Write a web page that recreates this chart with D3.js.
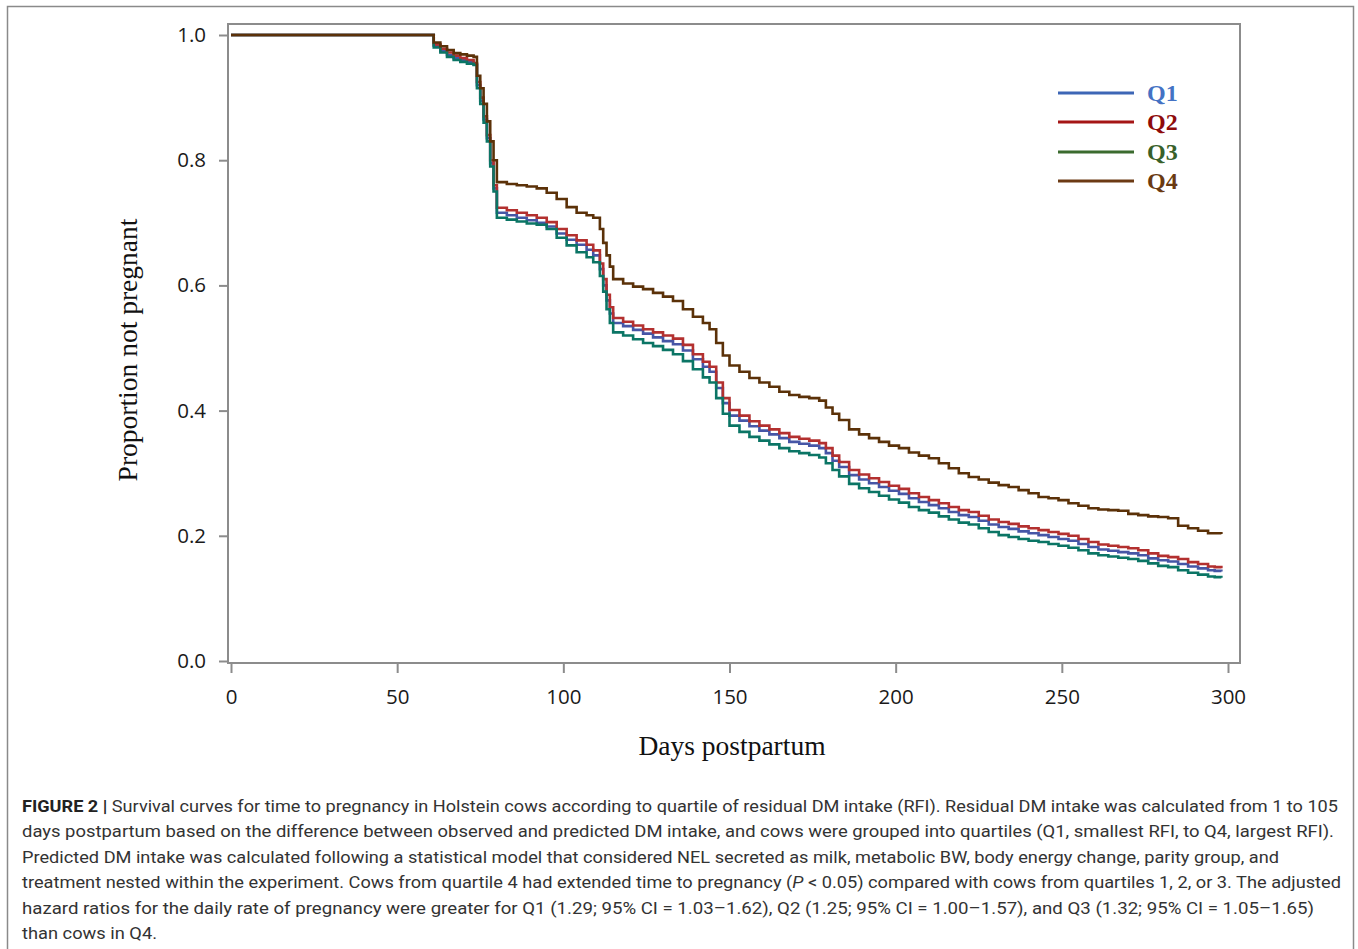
<!DOCTYPE html>
<html>
<head>
<meta charset="utf-8">
<script src="https://cdn.jsdelivr.net/npm/d3@7"></script>
<style>
  body { margin: 0; background: #fff; }
</style>
</head>
<body>
<div id="chart"></div>
<script>
// days at which the Kaplan-Meier estimates were read
var days = [0, 59, 61, 63, 65, 67, 69, 71, 73, 74,
	75, 76, 77, 78, 79, 80, 83, 86, 89, 92,
	95, 98, 101, 104, 107, 109, 111, 112, 113, 114,
	115, 118, 121, 124, 127, 130, 133, 136, 139, 142,
	144, 146, 148, 150, 153, 156, 159, 162, 165, 168,
	171, 174, 177, 179, 181, 183, 186, 189, 192, 195,
	198, 201, 204, 207, 210, 213, 216, 219, 222, 225,
	228, 231, 234, 237, 240, 243, 246, 249, 252, 255,
	258, 261, 264, 267, 270, 273, 276, 279, 282, 285,
	288, 291, 294, 296, 298];

var q1 = [1, 1, 0.983, 0.975, 0.968, 0.963, 0.96, 0.957, 0.953, 0.92,
	0.895, 0.865, 0.835, 0.795, 0.755, 0.716, 0.712, 0.708, 0.704, 0.7,
	0.694, 0.683, 0.673, 0.665, 0.657, 0.648, 0.626, 0.6, 0.576, 0.555,
	0.54, 0.535, 0.529, 0.523, 0.517, 0.511, 0.506, 0.496, 0.482, 0.47,
	0.462, 0.436, 0.412, 0.392, 0.384, 0.375, 0.368, 0.362, 0.356, 0.35,
	0.347, 0.344, 0.34, 0.332, 0.32, 0.31, 0.297, 0.29, 0.284, 0.278,
	0.272, 0.267, 0.26, 0.254, 0.249, 0.244, 0.238, 0.233, 0.23, 0.224,
	0.218, 0.214, 0.211, 0.207, 0.204, 0.201, 0.198, 0.195, 0.192, 0.187,
	0.182, 0.178, 0.176, 0.174, 0.172, 0.169, 0.164, 0.161, 0.159, 0.155,
	0.151, 0.148, 0.145, 0.144, 0.143];

var q2 = [1, 1, 0.985, 0.978, 0.972, 0.967, 0.963, 0.96, 0.955, 0.925,
	0.9, 0.87, 0.84, 0.8, 0.76, 0.724, 0.72, 0.716, 0.712, 0.708,
	0.701, 0.69, 0.68, 0.672, 0.665, 0.656, 0.635, 0.61, 0.585, 0.565,
	0.548, 0.542, 0.536, 0.53, 0.525, 0.52, 0.515, 0.505, 0.49, 0.478,
	0.47, 0.445, 0.42, 0.401, 0.392, 0.383, 0.376, 0.37, 0.364, 0.358,
	0.355, 0.352, 0.348, 0.34, 0.328, 0.318, 0.305, 0.298, 0.292, 0.286,
	0.28, 0.275, 0.268, 0.262, 0.257, 0.252, 0.246, 0.241, 0.238, 0.232,
	0.226, 0.222, 0.219, 0.215, 0.212, 0.209, 0.206, 0.203, 0.2, 0.195,
	0.19, 0.186, 0.184, 0.182, 0.18, 0.177, 0.172, 0.168, 0.166, 0.163,
	0.158, 0.155, 0.151, 0.15, 0.148];

var q3 = [1, 1, 0.98, 0.972, 0.965, 0.96, 0.957, 0.954, 0.952, 0.915,
	0.89, 0.86, 0.83, 0.79, 0.75, 0.708, 0.705, 0.702, 0.699, 0.697,
	0.69, 0.676, 0.664, 0.653, 0.645, 0.637, 0.615, 0.59, 0.562, 0.54,
	0.525, 0.52, 0.514, 0.508, 0.503, 0.497, 0.49, 0.479, 0.466, 0.453,
	0.445, 0.42, 0.395, 0.376, 0.366, 0.358, 0.352, 0.346, 0.34, 0.335,
	0.332, 0.329, 0.325, 0.316, 0.305, 0.295, 0.283, 0.276, 0.27, 0.264,
	0.258, 0.253, 0.246, 0.241, 0.237, 0.231, 0.226, 0.221, 0.218, 0.212,
	0.206, 0.201, 0.198, 0.195, 0.192, 0.19, 0.187, 0.184, 0.181, 0.177,
	0.172, 0.169, 0.167, 0.165, 0.163, 0.16, 0.156, 0.152, 0.15, 0.145,
	0.141, 0.138, 0.135, 0.134, 0.133];

var q4 = [1, 1, 0.988, 0.982, 0.976, 0.971, 0.969, 0.967, 0.965, 0.935,
	0.915, 0.89, 0.862, 0.83, 0.8, 0.765, 0.762, 0.76, 0.758, 0.755,
	0.748, 0.738, 0.725, 0.716, 0.712, 0.708, 0.69, 0.668, 0.648, 0.63,
	0.61, 0.603, 0.598, 0.594, 0.588, 0.582, 0.575, 0.562, 0.55, 0.54,
	0.53, 0.508, 0.488, 0.472, 0.462, 0.452, 0.445, 0.438, 0.43, 0.425,
	0.422, 0.42, 0.416, 0.405, 0.395, 0.385, 0.37, 0.362, 0.356, 0.35,
	0.344, 0.34, 0.333, 0.328, 0.324, 0.316, 0.308, 0.3, 0.294, 0.29,
	0.285, 0.281, 0.278, 0.273, 0.268, 0.262, 0.26, 0.257, 0.252, 0.248,
	0.244, 0.242, 0.241, 0.24, 0.235, 0.233, 0.231, 0.23, 0.228, 0.216,
	0.212, 0.208, 0.204, 0.204, 0.203];

var seriesNames = ["Q1", "Q2", "Q3", "Q4"];
var seriesValues = [q1, q2, q3, q4];
var curveColors = ["#4656a6", "#b3302f", "#0b7565", "#5b3108"];
var legendLineColors = ["#3d66b6", "#a51616", "#3b6b2e", "#6c3a14"];
var legendTextColors = ["#4472c4", "#8e0b0b", "#38602a", "#6a3a12"];

var xTicks = [0, 50, 100, 150, 200, 250, 300];
var yTicks = [0, 0.2, 0.4, 0.6, 0.8, 1.0];

var captionLines = [
	["FIGURE 2 | ", "Survival curves for time to pregnancy in Holstein cows according to quartile of residual DM intake (RFI). Residual DM intake was calculated from 1 to 105"],
	["", "days postpartum based on the difference between observed and predicted DM intake, and cows were grouped into quartiles (Q1, smallest RFI, to Q4, largest RFI)."],
	["", "Predicted DM intake was calculated following a statistical model that considered NEL secreted as milk, metabolic BW, body energy change, parity group, and"],
	["", "treatment nested within the experiment. Cows from quartile 4 had extended time to pregnancy (|P| < 0.05) compared with cows from quartiles 1, 2, or 3. The adjusted"],
	["", "hazard ratios for the daily rate of pregnancy were greater for Q1 (1.29; 95% CI = 1.03–1.62), Q2 (1.25; 95% CI = 1.00–1.57), and Q3 (1.32; 95% CI = 1.05–1.65)"],
	["", "than cows in Q4."]
];
var captionWidths = [1316, 1312, 1257, 1319, 1292, 135];

var width = 1358, height = 949;
var svg = d3.select("#chart").append("svg")
	.attr("width", width)
	.attr("height", height);

// outer figure frame
svg.append("rect")
	.attr("x", 7.5).attr("y", 6.5)
	.attr("width", 1346).attr("height", 970)
	.style("fill", "none")
	.style("stroke", "#8a8a8a")
	.style("stroke-width", 1.5);

var x = d3.scaleLinear().domain([0, 300]).range([231, 1228]);
var y = d3.scaleLinear().domain([0, 1]).range([661, 35]);

var boxLeft = 228, boxRight = 1240, boxTop = 24, boxBottom = 663;
var axisColor = "#8c8c8c";

// plot box
svg.append("rect")
	.attr("x", boxLeft).attr("y", boxTop)
	.attr("width", boxRight - boxLeft).attr("height", boxBottom - boxTop)
	.style("fill", "none")
	.style("stroke", axisColor)
	.style("stroke-width", 2);

var tickFont = "'Open Sans', 'DejaVu Sans', sans-serif";

// y axis
var yAxis = svg.append("g")
	.attr("transform", "translate(" + boxLeft + ",0)")
	.call(d3.axisLeft(y).tickValues(yTicks).tickFormat(d3.format(".1f")).tickSize(9).tickPadding(13));
yAxis.select(".domain").remove();
yAxis.selectAll(".tick line").style("stroke", axisColor).style("stroke-width", 2);
yAxis.selectAll(".tick text")
	.style("font-family", tickFont)
	.style("font-size", "20.5px")
	.style("fill", "#1a1a1a");

// x axis
var xAxis = svg.append("g")
	.attr("transform", "translate(0," + boxBottom + ")")
	.call(d3.axisBottom(x).tickValues(xTicks).tickFormat(d3.format("d")).tickSize(10).tickPadding(16));
xAxis.select(".domain").remove();
xAxis.selectAll(".tick line").style("stroke", axisColor).style("stroke-width", 2);
xAxis.selectAll(".tick text")
	.style("font-family", tickFont)
	.style("font-size", "20.5px")
	.style("fill", "#1a1a1a");

// axis titles
var serif = "'Liberation Serif', 'DejaVu Serif', serif";
svg.append("text")
	.attr("transform", "translate(137,350) rotate(-90)")
	.attr("text-anchor", "middle")
	.style("font-family", serif)
	.style("font-size", "27.5px")
	.style("fill", "#111")
	.text("Proportion not pregnant");

svg.append("text")
	.attr("x", 732).attr("y", 755)
	.attr("text-anchor", "middle")
	.style("font-family", serif)
	.style("font-size", "27.5px")
	.style("fill", "#111")
	.text("Days postpartum");

// survival curves
var line = d3.line()
	.x(function(d) { return x(d[0]); })
	.y(function(d) { return y(d[1]); })
	.curve(d3.curveStepAfter);

var curveG = svg.append("g");
seriesValues.forEach(function(vals, i) {
	var pts = days.map(function(d, j) { return [d, vals[j]]; });
	curveG.append("path")
		.datum(pts)
		.attr("d", line)
		.style("fill", "none")
		.style("stroke", curveColors[i])
		.style("stroke-width", 2.6)
		.style("stroke-linejoin", "miter");
});

// legend
var legendG = svg.append("g");
var legendY = [93, 122, 152, 181];
seriesNames.forEach(function(name, i) {
	legendG.append("line")
		.attr("x1", 1058).attr("x2", 1134)
		.attr("y1", legendY[i]).attr("y2", legendY[i])
		.style("stroke", legendLineColors[i])
		.style("stroke-width", 3);
	legendG.append("text")
		.attr("x", 1147).attr("y", legendY[i] + 8)
		.style("font-family", serif)
		.style("font-weight", "bold")
		.style("font-size", "24px")
		.style("fill", legendTextColors[i])
		.text(name);
});

// caption
var capFont = "'Liberation Sans Narrow', 'Roboto', 'Liberation Sans', sans-serif";
captionLines.forEach(function(parts, i) {
	var t = svg.append("text")
		.attr("x", 22).attr("y", 812 + i * 25.4)
		.attr("textLength", captionWidths[i])
		.attr("lengthAdjust", "spacingAndGlyphs")
		.style("font-family", capFont)
		.style("font-size", "17px")
		.style("fill", "#333");
	if (parts[0]) {
		t.append("tspan").style("font-weight", "bold").style("fill", "#222").text(parts[0]);
	}
	var segs = parts[1].split("|");
	segs.forEach(function(s, k) {
		var sp = t.append("tspan").text(s);
		if (k % 2 == 1) sp.style("font-style", "italic");
	});
});
</script>
</body>
</html>
